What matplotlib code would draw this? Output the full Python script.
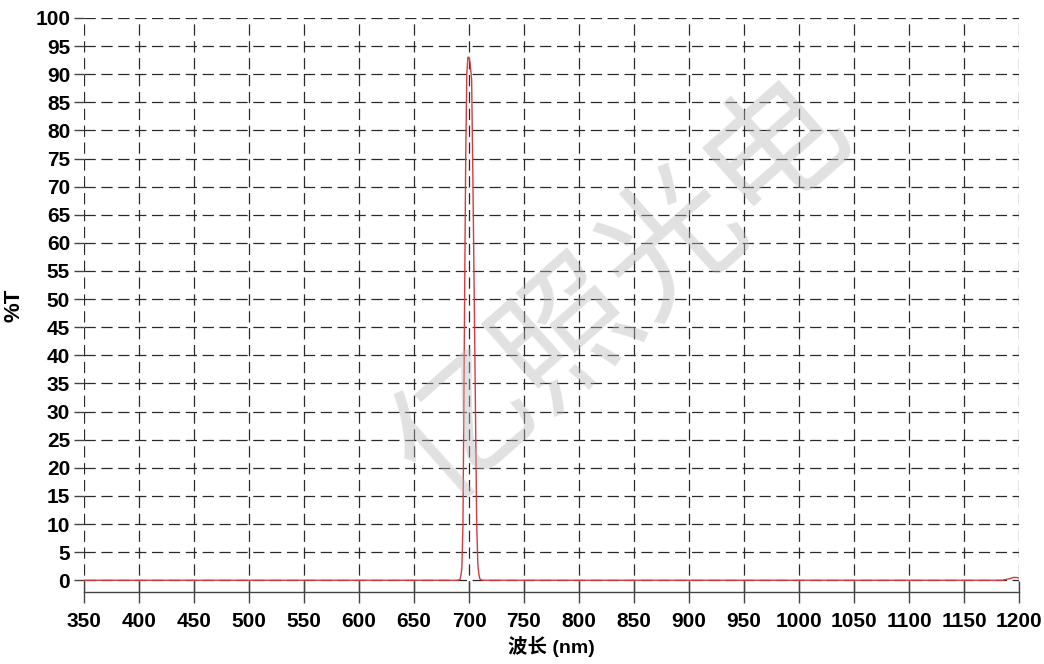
import matplotlib
matplotlib.use("Agg")
import matplotlib.pyplot as plt
import numpy as np

# transmission curve (nm, %T)
wavelength = [350, 600, 680, 690, 692, 693.5, 694.5, 695.3, 696, 697, 698, 699, 700,
              701, 702.4, 703.5, 704.8, 706, 707, 708, 709, 710, 712, 750, 900,
              1100, 1185, 1192, 1195, 1198, 1200]
transmission = [0, 0, 0, 0, 0.2, 2, 10, 30, 50, 75, 90, 93, 93,
                 92, 89, 72, 50, 28, 10, 3, 1, 0.2, 0, 0, 0,
                 0, 0, 0.3, 0.5, 0.5, 0.4]

x_ticks = list(range(350, 1201, 50))
y_ticks = list(range(0, 101, 5))

num_font = ["Liberation Sans Narrow", "Liberation Sans", "DejaVu Sans"]
cjk_font = ["Liberation Sans", "Noto Sans CJK SC", "DejaVu Sans"]

fig = plt.figure(figsize=(10.44, 6.64), dpi=100)
ax = fig.add_axes([0.0805, 0.108, 0.8955, 0.865])

ax.plot(wavelength, transmission, color="#d63a3c", lw=1.0, zorder=3)

ax.set_xlim(350, 1200)
ax.set_ylim(-2.14, 100)
ax.set_xticks(x_ticks)
ax.set_yticks(y_ticks)
ax.grid(True, color="#2a2a2a", lw=0.9, linestyle=(0, (9, 4.5)))

for s in ["top", "right", "left"]:
    ax.spines[s].set_visible(False)
ax.spines["bottom"].set_color("#444444")
ax.spines["bottom"].set_linewidth(1.0)

ax.tick_params(axis="x", direction="inout", length=16, width=1.0, color="#444444", pad=6)
ax.tick_params(axis="y", direction="out", length=7, width=1.0, color="#444444", pad=3)
for lab in ax.get_xticklabels() + ax.get_yticklabels():
    lab.set_family(num_font)
    lab.set_fontweight("bold")
    lab.set_fontsize(15)

ax.set_ylabel("%T", family=num_font, fontweight="bold", fontsize=16, labelpad=8)
ax.set_xlabel("波长 (nm)", family=cjk_font, fontweight="bold", fontsize=14, labelpad=4)

# watermark
fig.text(0.597, 0.562, "亿照光电", family=["Noto Sans CJK SC", "DejaVu Sans"],
         fontsize=100, fontweight="light", color="#b8b8b8", alpha=0.42,
         rotation=41.5, ha="center", va="center", zorder=10)

fig.savefig("out.png", dpi=100)
